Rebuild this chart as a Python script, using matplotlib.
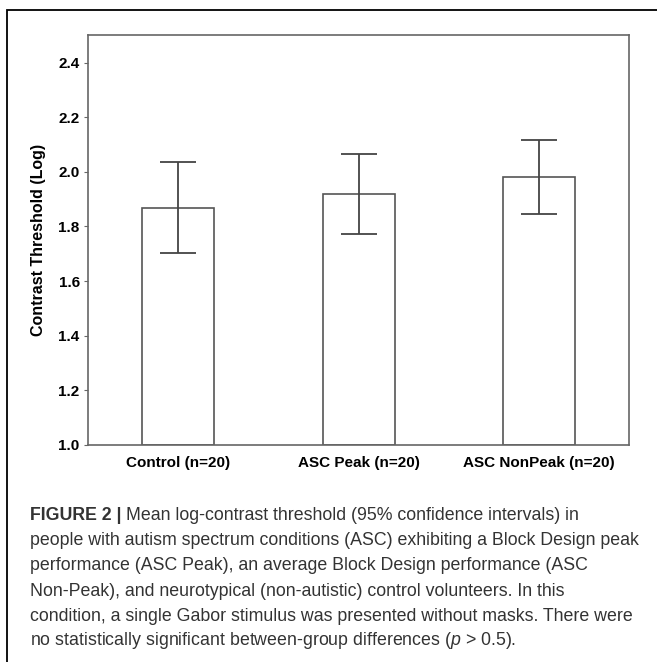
import matplotlib.pyplot as plt
import numpy as np
from matplotlib.patches import Rectangle

plt.rcParams['font.family'] = ['Liberation Sans', 'DejaVu Sans']
plt.rcParams['mathtext.fontset'] = 'custom'
plt.rcParams['mathtext.it'] = 'Liberation Sans:italic'
plt.rcParams['mathtext.rm'] = 'Liberation Sans'

# data
groups = ['Control (n=20)', 'ASC Peak (n=20)', 'ASC NonPeak (n=20)']
means = [1.868, 1.919, 1.980]
ci_low = [1.704, 1.774, 1.846]
ci_high = [2.035, 2.064, 2.118]
yticks = [1.0, 1.2, 1.4, 1.6, 1.8, 2.0, 2.2, 2.4]

caption_lines = [
    'Mean log-contrast threshold (95% confidence intervals) in',
    'people with autism spectrum conditions (ASC) exhibiting a Block Design peak',
    'performance (ASC Peak), an average Block Design performance (ASC',
    'Non-Peak), and neurotypical (non-autistic) control volunteers. In this',
    'condition, a single Gabor stimulus was presented without masks. There were',
    'no statistically significant between-group differences ($\\it{p}$ > 0.5).',
]

W, H = 657, 662
fig = plt.figure(figsize=(W / 100, H / 100), dpi=100)

ax = fig.add_axes([88 / W, 1 - 445 / H, (629.3 - 88) / W, (445 - 35.3) / H])

x = np.arange(len(groups))
means = np.array(means)
yerr = np.array([means - np.array(ci_low), np.array(ci_high) - means])

ax.bar(x, means - 1.0, bottom=1.0, width=0.4, color='white',
       edgecolor='#555555', linewidth=1.2, zorder=2)
ax.errorbar(x, means, yerr=yerr, fmt='none', ecolor='#444444',
            elinewidth=1.3, capsize=13, capthick=1.3, zorder=3)

ax.set_xlim(-0.5, 2.5)
ax.set_ylim(1.0, 2.5)
ax.set_yticks(yticks)
ax.set_yticklabels([f'{v:.1f}' for v in yticks], fontweight='bold', fontsize=11)
ax.set_xticks(x)
ax.set_xticklabels(groups, fontweight='bold', fontsize=11)
ax.tick_params(axis='x', length=0, pad=8)
ax.tick_params(axis='y', length=3, width=0.8, color='#666666', pad=3)
for s in ax.spines.values():
    s.set_color('#666666')
    s.set_linewidth(1.2)
ax.set_ylabel('Contrast Threshold (Log)', fontweight='bold', fontsize=11.5, labelpad=9)

# outer frame (only left and top edges fall inside the picture)
fig.add_artist(Rectangle((7 / W, -0.2), 2.0, (H - 10) / H + 0.2,
                         transform=fig.transFigure, fill=False,
                         edgecolor='black', linewidth=1.3))

# caption
x0 = 30 / W
fs = 12.8
baselines = [520, 545, 570, 596, 621, 645]
cap_color = '#333333'
head = fig.text(x0, 1 - baselines[0] / H, 'FIGURE 2 | ', fontsize=fs,
                fontweight='bold', color=cap_color, va='baseline', ha='left')
fig.canvas.draw()
ext = head.get_window_extent()
fig.text(ext.x1 / W, 1 - baselines[0] / H, caption_lines[0], fontsize=fs,
         color=cap_color, va='baseline', ha='left')
for line, yb in zip(caption_lines[1:], baselines[1:]):
    fig.text(x0, 1 - yb / H, line, fontsize=fs, color=cap_color,
             va='baseline', ha='left')

fig.savefig('out.png', dpi=100)
